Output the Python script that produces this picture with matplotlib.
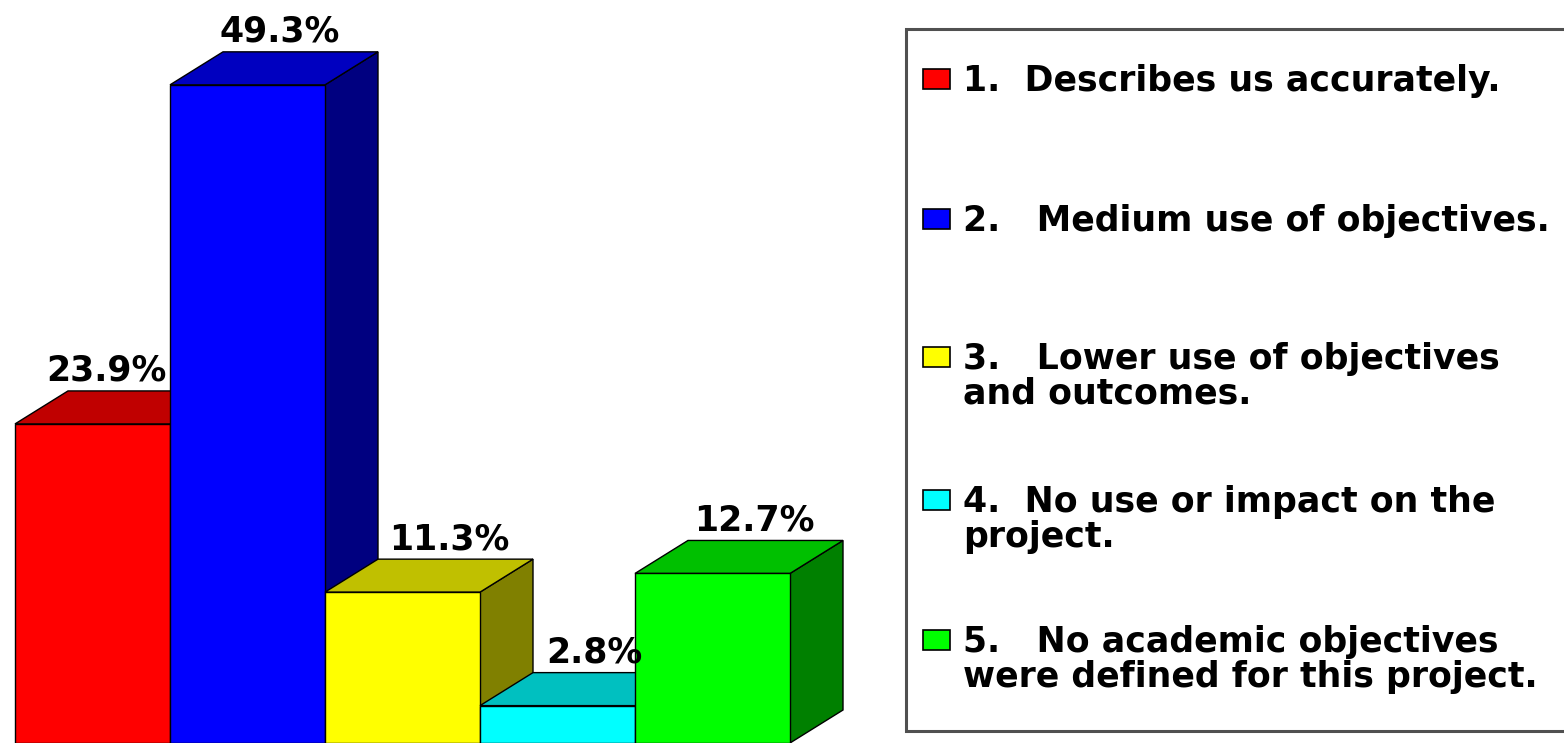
import matplotlib
matplotlib.use("Agg")
import matplotlib.pyplot as plt
from matplotlib.patches import Polygon, Rectangle

# ---- data ----
values = [23.9, 49.3, 11.3, 2.8, 12.7]
value_labels = ["23.9%", "49.3%", "11.3%", "2.8%", "12.7%"]
legend_labels = [
    "1.  Describes us accurately.",
    "2.   Medium use of objectives.",
    "3.   Lower use of objectives\nand outcomes.",
    "4.  No use or impact on the\nproject.",
    "5.   No academic objectives\nwere defined for this project.",
]
front_colors = ["#FF0000", "#0000FF", "#FFFF00", "#00FFFF", "#00FF00"]
top_colors = ["#C00000", "#0000C0", "#C0C000", "#00C0C0", "#00C000"]
side_colors = ["#800000", "#000080", "#808000", "#008080", "#008000"]

# layout (pixel offsets of value labels from bar front centre)
label_dx_px = [14, 32, 47, 37, 42]

W, H = 1564, 743
fig = plt.figure(figsize=(W / 100, H / 100), dpi=100)
fig.patch.set_facecolor("white")

FONT = "DejaVu Sans"
FS = 25

# bar axes: one unit in x = one bar width (155 px); y = percent
ax = fig.add_axes([0, 0, 1, 1])
bar_px = 155.0
x0_px = 15.0
ppu_y = 13.35
ax.set_xlim(-x0_px / bar_px, (W - x0_px) / bar_px)
ax.set_ylim(0, H / ppu_y)
ax.axis("off")

dx = 53 / bar_px
dy = 33 / ppu_y
lw = 1.0
for i, (v, fc, tc, sc, lab) in enumerate(zip(values, front_colors, top_colors, side_colors, value_labels)):
    xl, xr = i, i + 1
    side = Polygon([(xr, 0), (xr + dx, dy), (xr + dx, v + dy), (xr, v)],
                   closed=True, facecolor=sc, edgecolor="black", lw=lw, zorder=3 + i * 3)
    top = Polygon([(xl, v), (xl + dx, v + dy), (xr + dx, v + dy), (xr, v)],
                  closed=True, facecolor=tc, edgecolor="black", lw=lw, zorder=3 + i * 3 + 1)
    front = Rectangle((xl, 0), 1, v, facecolor=fc, edgecolor="black", lw=lw, zorder=3 + i * 3 + 2)
    ax.add_patch(side)
    ax.add_patch(top)
    ax.add_patch(front)
    ax.text(i + 0.5 + label_dx_px[i] / bar_px, v + dy + 0.75, lab, ha="center", va="baseline",
            fontsize=FS, fontweight="bold", family=FONT, color="black", zorder=40)

# legend overlay in pixel coordinates
lg = fig.add_axes([0, 0, 1, 1], zorder=50)
lg.set_xlim(0, W)
lg.set_ylim(H, 0)
lg.axis("off")
lg.patch.set_alpha(0)

lg.add_patch(Rectangle((906, 29), W - 906 + 20, 731 - 29, facecolor="white",
                       edgecolor="#505050", lw=2.2, clip_on=False))
baselines = [91, 231, 369, 512, 652]
line_gap = 35
for lab, c, b in zip(legend_labels, front_colors, baselines):
    lg.add_patch(Rectangle((923, b - 22), 27, 20, facecolor=c, edgecolor="black", lw=1.2))
    for k, line in enumerate(lab.split("\n")):
        lg.text(963, b + k * line_gap, line, ha="left", va="baseline",
                fontsize=FS, fontweight="bold", family=FONT, color="black")

fig.savefig("out.png", dpi=100, facecolor="white")
